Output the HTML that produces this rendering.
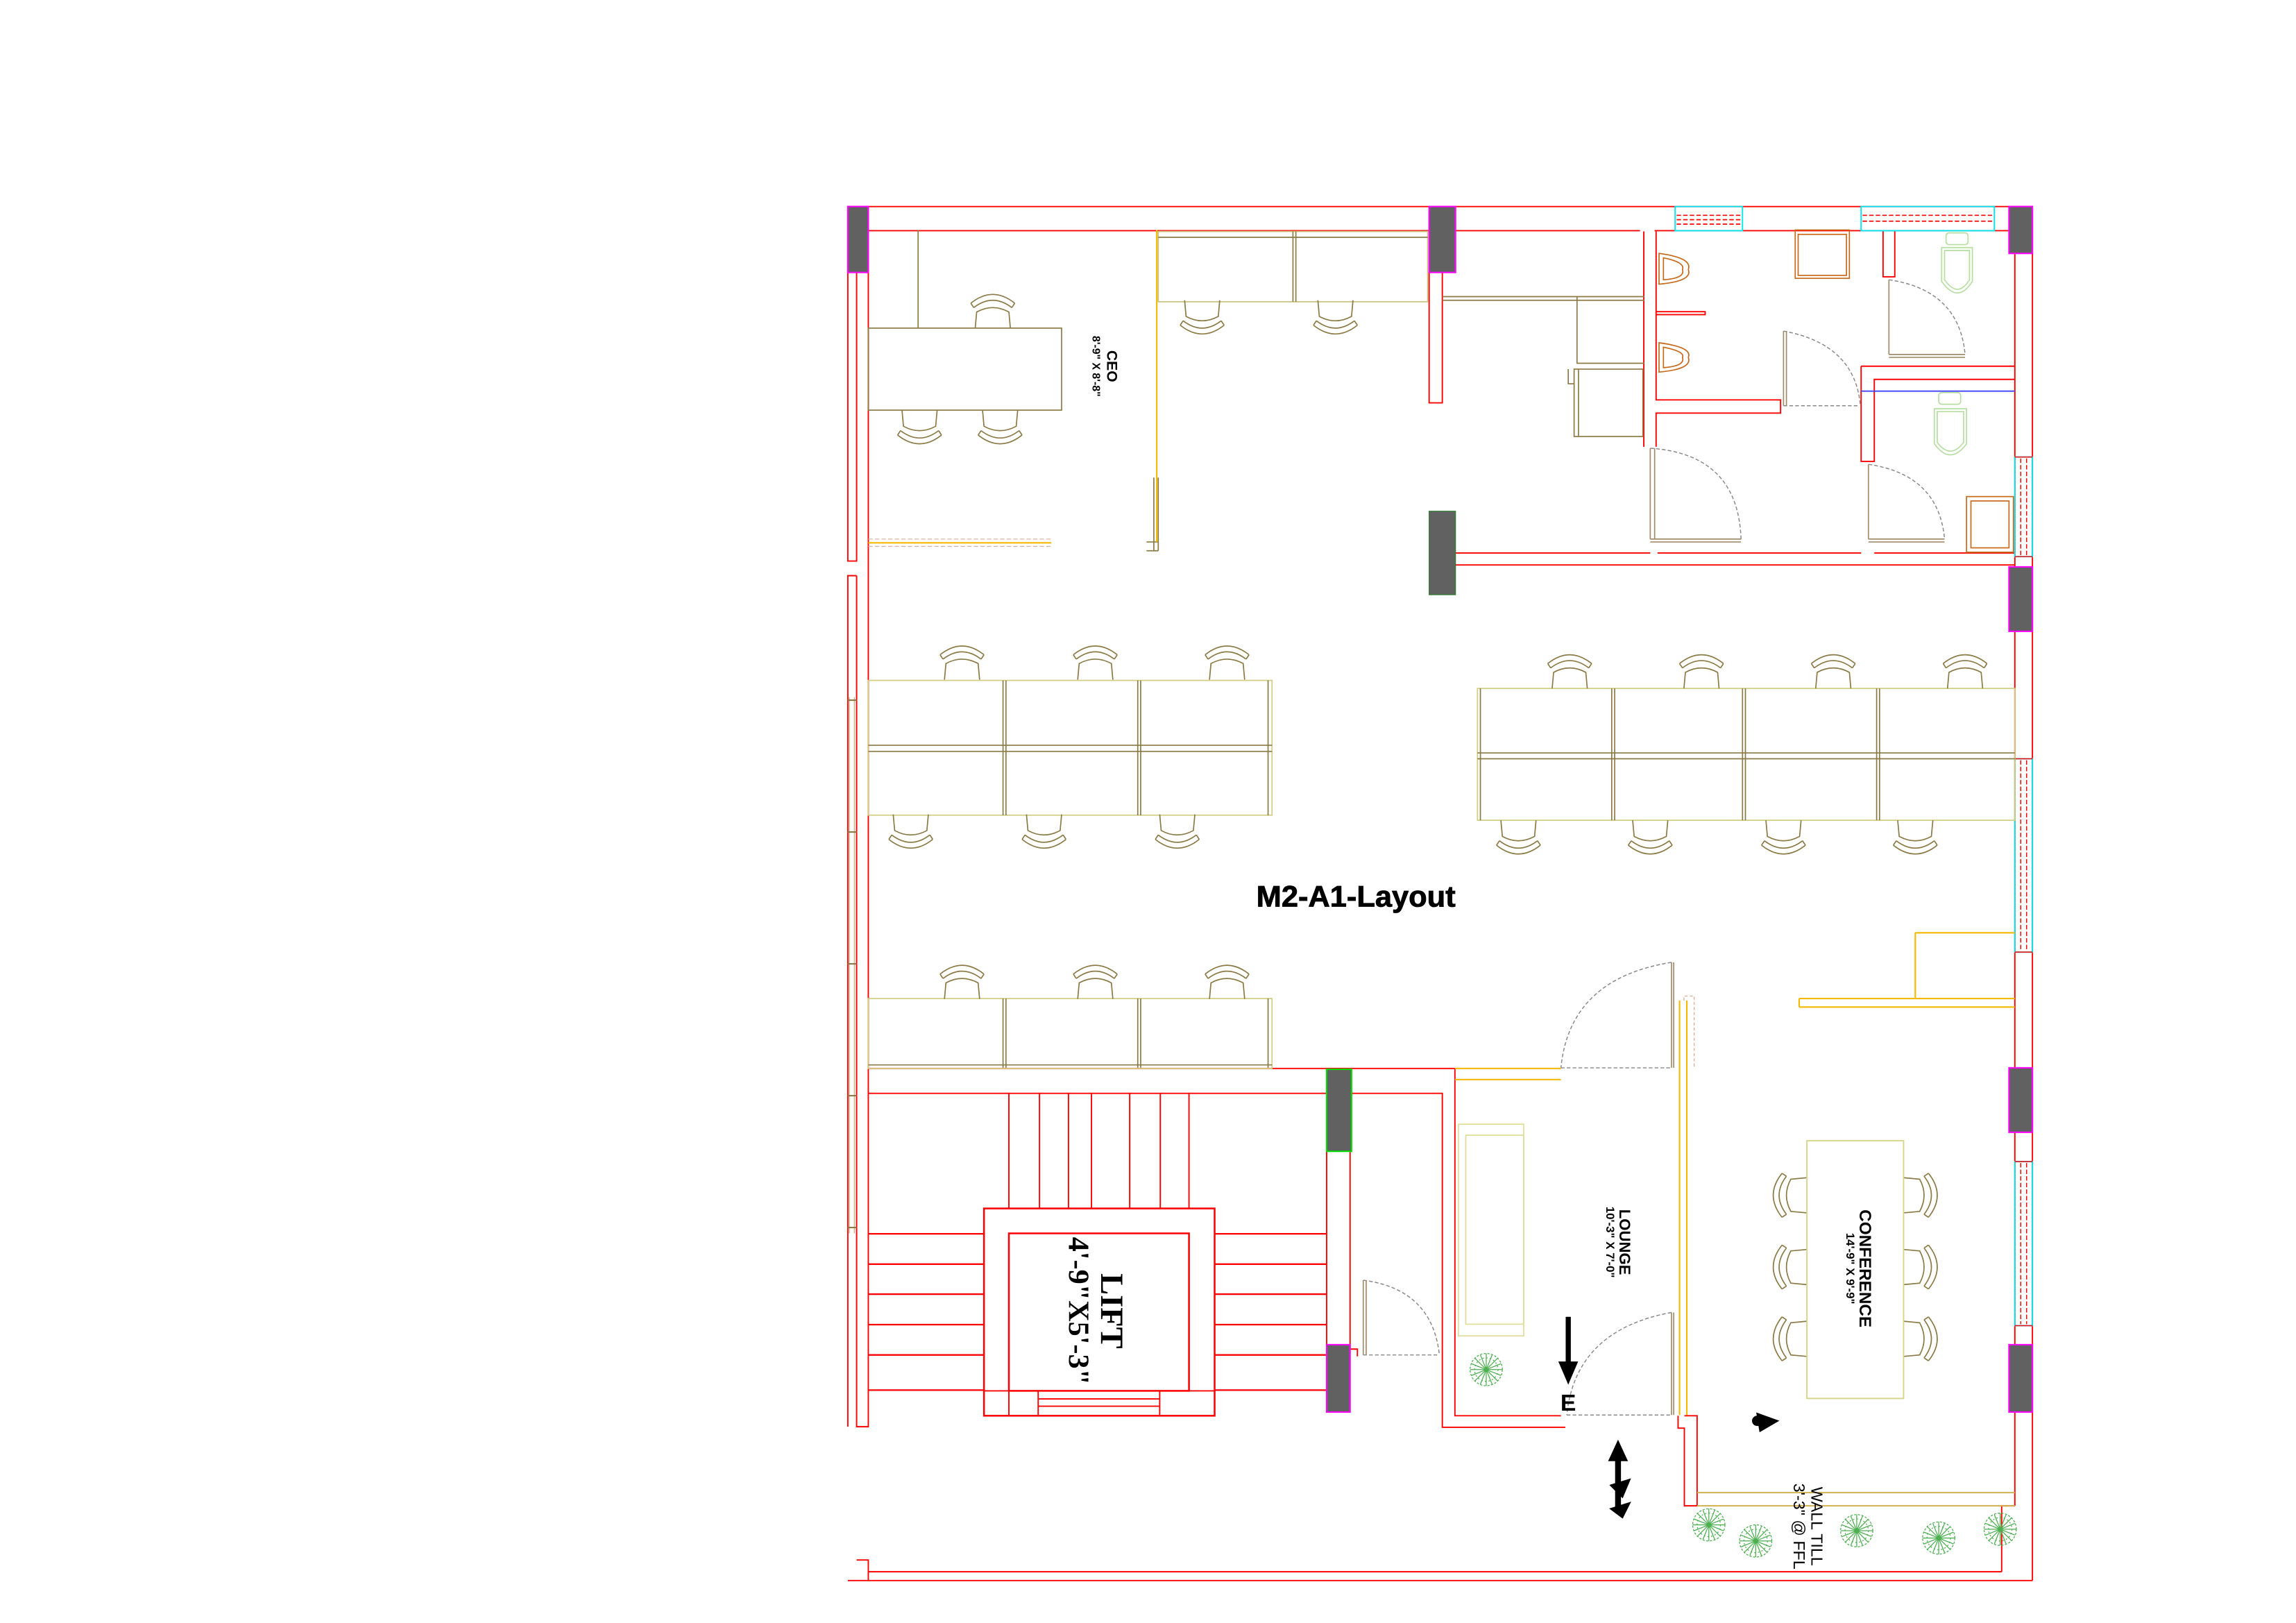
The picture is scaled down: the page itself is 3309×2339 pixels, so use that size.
<!DOCTYPE html>
<html><head><meta charset="utf-8"><style>
html,body{margin:0;padding:0;background:#fff;}
svg{display:block;}
</style></head><body>
<svg width="3309" height="2339" viewBox="0 0 1568 1108" preserveAspectRatio="none" xmlns="http://www.w3.org/2000/svg">
<defs>
<g id="ch" fill="none" stroke="#8b7a45" stroke-width="0.8">
<path d="M-15 7 Q0 -5 15 7 M-13 10 Q0 0 13 10 M-15 7 L-13 10 M15 7 L13 10"/>
<path d="M-12 24 L-11 13 Q0 7 11 13 L12 24"/>
</g>
<g id="tree" fill="none" stroke="#4caf50" stroke-width="0.6">
<circle r="11" stroke-dasharray="1.5 1"/>
<path d="M0 0 L0 -11 M0 0 L8 -8 M0 0 L11 0 M0 0 L8 8 M0 0 L0 11 M0 0 L-8 8 M0 0 L-11 0 M0 0 L-8 -8 M0 0 L4 -10 M0 0 L10 -4 M0 0 L10 4 M0 0 L4 10 M0 0 L-4 10 M0 0 L-10 4 M0 0 L-10 -4 M0 0 L-4 -10"/>
<circle r="8" stroke-dasharray="1 1.5"/>
</g>
</defs>
<g fill="none" stroke="#ff0000" stroke-width="0.9">
<path d="M579 141 H1388 M593 157.5 H1120 M1130 157.5 H1376"/>
<path d="M579 141 V383 H585 V186 M585 393 H579 V974 M593 157 V974 H585 V393"/>
<path d="M1376 157 V1028 M1388 141 V1079 M1376 1028 H1367 V1073"/>
<path d="M593 1073 H1367 M579 1079 H1388 M585 1065 H593 V1079"/>
<path d="M976 186 V275 H985 V186"/>
<path d="M1122.6 158 V305 M1131 158 V273 H1216 V282 H1131 V305"/>
<path d="M1131 212.8 H1164.5 V214.8 H1131"/>
<path d="M1271 250 V315 H1280 V259 H1376 M1271 250 H1376 M1286 158 V189 H1294 V158"/>
<path d="M994 377.5 H1127 M1132 377.5 H1271 M1280 377.5 H1376 M994 385.7 H1376"/>
<path d="M593 729.4 H993.6 M593 746.4 H906 M922 746.4 H985 V974.4 H1069 M993.6 729.4 V966.5 H1066"/>
<path d="M689 746 V825 M709.9 746 V825 M729.7 746 V825 M745.4 746 V825 M771.5 746 V825 M792.4 746 V825 M812 746 V825"/>
<rect x="672" y="825" width="157.5" height="141.5" stroke-width="1.2"/>
<rect x="689" y="842" width="123" height="107.5" stroke-width="1.2"/>
<path d="M672 949.5 H689 V966.5 M812 949.5 H829.5 M709 949.5 V966.5 M792 949.5 V966.5 M709 955 H792 M709 960 H792"/>
<path d="M593 842.3 H672 M593 863 H672 M593 883.5 H672 M593 904.3 H672 M593 925 H672 M593 949 H672" stroke-width="1.1"/>
<path d="M829.5 842.3 H906 M829.5 863 H906 M829.5 883.5 H906 M829.5 904.3 H906 M829.5 925 H906 M829.5 949 H906" stroke-width="1.1"/>
<path d="M906 786 V921 M922 786 V921 M922 921 H927 V926"/>
<path d="M1150.3 966.5 H1159 V1028 H1150.3 V975 H1146 V966.5"/>
</g>
<g fill="none">
<rect x="1144" y="141" width="46" height="16.5" stroke="#00e5ee" stroke-width="0.9"/>
<path d="M1145 147 H1189 M1145 150 H1189 M1145 153 H1189" stroke="#ff0000" stroke-width="0.8" stroke-dasharray="3 1.5"/>
<rect x="1271" y="141" width="91" height="16.5" stroke="#00e5ee" stroke-width="0.9"/>
<path d="M1272 147 H1361 M1272 151 H1361" stroke="#ff0000" stroke-width="0.8" stroke-dasharray="3 1.5"/>
<rect x="1376" y="312" width="12" height="68" stroke="#00e5ee" stroke-width="0.9"/>
<rect x="1376" y="518" width="12" height="132" stroke="#00e5ee" stroke-width="0.9"/>
<rect x="1376" y="793" width="12" height="112" stroke="#00e5ee" stroke-width="0.9"/>
<path d="M1380 313 V379 M1384 313 V379 M1380 519 V649 M1384 519 V649 M1380 794 V904 M1384 794 V904" stroke="#ff0000" stroke-width="0.7" stroke-dasharray="3 1.5"/>
<path d="M1376 312 H1388 M1376 380 H1388 M1376 518 H1388 M1376 650 H1388 M1376 793 H1388 M1376 905 H1388" stroke="#ff0000" stroke-width="0.7"/>
</g>
<g fill="#616161" stroke="#ff00ff" stroke-width="1">
<rect x="579" y="141" width="14" height="45"/>
<rect x="976" y="141" width="18" height="45"/>
<rect x="1372" y="141" width="16" height="32"/>
<rect x="1372" y="387" width="16" height="44"/>
<rect x="1372" y="729" width="16" height="44"/>
<rect x="906" y="918" width="16" height="46"/>
<rect x="1372" y="918" width="16" height="46"/>
</g>
<rect x="976" y="349" width="18" height="57" fill="#616161" stroke="#2e7d32" stroke-width="0.6"/>
<rect x="906" y="730" width="17" height="56" fill="#616161" stroke="#00dd00" stroke-width="1"/>
<g fill="none" stroke="#8b7a45" stroke-width="0.8">
<path d="M627 157 V224"/>
<rect x="593" y="224" width="132" height="56"/>
<rect x="791" y="158" width="184" height="48" stroke="#c8c27a"/>
<path d="M791 162 H975 M883 158 V206 M885 158 V206"/>
<path d="M985 202.5 H1123 M985 205 H1123 M1077 202.5 V248 H1123"/>
<rect x="1075" y="252" width="47" height="46"/>
<path d="M1078 252 V298 M1071 252 V262 H1075"/>
<path d="M788 326 V376 M791 326 V376 M783 370 H791 M783 376 H791"/>
</g>
<path d="M790 157 V370 M593 370.6 H718" stroke="#f5b800" stroke-width="1"/>
<path d="M593 368 H718 M593 373 H718" stroke="#d9b3a0" stroke-width="0.6" stroke-dasharray="3 1.5"/>
<g fill="none" stroke="#c8691a" stroke-width="0.8">
<path d="M1133 173 Q1156 176 1153 184 Q1156 192 1133 194 Z M1136 176 Q1151 179 1149 184 Q1151 190 1136 191 Z"/>
<path d="M1133 234 Q1156 237 1153 244 Q1156 252 1133 254 Z M1136 237 Q1151 240 1149 244 Q1151 250 1136 251 Z"/>
<rect x="1226" y="157" width="37" height="33"/><rect x="1228" y="160" width="33" height="28"/>
<rect x="1343" y="339" width="32" height="38"/><rect x="1346" y="342" width="26" height="32"/>
</g>
<g fill="none" stroke="#b5dea0" stroke-width="0.8">
<rect x="1329" y="159" width="15" height="8" rx="2"/>
<path d="M1326 169 H1347 V192 Q1337 208 1326 192 Z M1328 171 H1345 V191 Q1337 204 1328 191 Z"/>
<rect x="1324" y="268" width="15" height="8" rx="2"/>
<path d="M1321 279 H1343 V303 Q1332 318 1321 303 Z M1323 281 H1341 V302 Q1332 314 1323 302 Z"/>
</g>
<path d="M1271 267 H1376" stroke="#4040ff" stroke-width="0.9"/>
<g fill="none" stroke="#888" stroke-width="0.7" stroke-dasharray="2.5 1.5">
<path d="M1127 306 Q1187 310 1189 368"/>
<path d="M1218 226 Q1267 235 1270.5 277 M1218 277 H1270"/>
<path d="M1290 191 Q1338 198 1342 242"/>
<path d="M1276 317 Q1324 324 1328 368"/>
<path d="M931 874 Q978 880 983 925 M931 925 H983"/>
<path d="M1141.5 657 Q1072 668 1066 729 M1066 729 H1141"/>
<path d="M1141.5 896 Q1076 908 1070 966 M1070 966 H1141"/>
</g>
<g fill="none" stroke="#a08c6a" stroke-width="0.8">
<path d="M1127 306 V368 M1130 306 V368 M1127 368 H1189 M1127 370 H1189"/>
<path d="M1218 226 V277 M1220 226 V277"/>
<path d="M1290 191 V242 M1290 242 H1342 M1290 244 H1342"/>
<path d="M1276 317 V368 M1276 368 H1328 M1276 370 H1328"/>
<path d="M931 874 V925 M933 874 V925"/>
<path d="M1141.5 657 V729 M1143 657 V729 M1141.5 896 V966 M1143 896 V966"/>
</g>
<g fill="none" stroke="#d0cc80" stroke-width="0.8">
<rect x="593" y="464.5" width="275.7" height="92"/>
<rect x="1009" y="470" width="367" height="90"/>
<rect x="593" y="681.7" width="275.7" height="47.7"/>
</g>
<g fill="none" stroke="#8b7a45" stroke-width="0.8">
<path d="M593 508.8 H868.7 M593 513 H868.7 M685 464.5 V556.6 M687 464.5 V556.6 M777 464.5 V556.6 M779 464.5 V556.6 M866 464.5 V556.6"/>
<path d="M1009 514 H1376 M1009 518 H1376 M1011 470 V560 M1100.7 470 V560 M1102.7 470 V560 M1190 470 V560 M1192 470 V560 M1281.6 470 V560 M1283.6 470 V560"/>
<path d="M593 727 H868.7 M685 681.7 V729 M687 681.7 V729 M777 681.7 V729 M779 681.7 V729 M866 681.7 V729"/>
</g>
<use href="#ch" x="678" y="200"/>
<use href="#ch" transform="translate(628 304) scale(1 -1)"/>
<use href="#ch" transform="translate(683 304) scale(1 -1)"/>
<use href="#ch" transform="translate(821 229) scale(1 -1)"/>
<use href="#ch" transform="translate(912 229) scale(1 -1)"/>
<use href="#ch" x="657" y="440"/><use href="#ch" x="748" y="440"/><use href="#ch" x="838" y="440"/>
<use href="#ch" transform="translate(622 580) scale(1 -1)"/>
<use href="#ch" transform="translate(713 580) scale(1 -1)"/>
<use href="#ch" transform="translate(804 580) scale(1 -1)"/>
<use href="#ch" x="1072" y="446"/><use href="#ch" x="1162" y="446"/><use href="#ch" x="1252" y="446"/><use href="#ch" x="1342" y="446"/>
<use href="#ch" transform="translate(1037 584) scale(1 -1)"/>
<use href="#ch" transform="translate(1127 584) scale(1 -1)"/>
<use href="#ch" transform="translate(1218 584) scale(1 -1)"/>
<use href="#ch" transform="translate(1308 584) scale(1 -1)"/>
<use href="#ch" x="657" y="658"/><use href="#ch" x="748" y="658"/><use href="#ch" x="838" y="658"/>
<use href="#ch" transform="translate(1210 816) rotate(-90)"/>
<use href="#ch" transform="translate(1210 865) rotate(-90)"/>
<use href="#ch" transform="translate(1210 914) rotate(-90)"/>
<use href="#ch" transform="translate(1324 816) rotate(90)"/>
<use href="#ch" transform="translate(1324 865) rotate(90)"/>
<use href="#ch" transform="translate(1324 914) rotate(90)"/>
<rect x="1234" y="778.7" width="66" height="176" fill="none" stroke="#d6d488" stroke-width="0.9"/>
<g fill="none" stroke="#f5b800" stroke-width="1">
<path d="M993.6 729.4 H1066 M993.6 737 H1066"/>
<path d="M1147 683 V966 M1152 683 V966"/>
<path d="M1228.7 681.7 H1376 M1228.7 687.5 H1376 M1228.7 681.7 V687.5 M1308 636.8 V681.7 M1308 636.8 H1376"/>
<path d="M1159 1019 H1376 M1159 1028 H1376" stroke="#d0b050"/>
</g>
<path d="M1150 683 V680 H1157 V729" fill="none" stroke="#e0a890" stroke-width="0.6" stroke-dasharray="2 1.5"/>
<rect x="996" y="767.5" width="44.6" height="144.5" fill="none" stroke="#e0dc98" stroke-width="0.8"/>
<rect x="1001" y="775" width="39.6" height="129" fill="none" stroke="#e0dc98" stroke-width="0.8"/>
<path d="M580 476 V842 M583.5 476 V842" fill="none" stroke="#c8b88a" stroke-width="0.7"/>
<path d="M579 478 H585 M579 568 H585 M579 658 H585 M579 748 H585 M579 838 H585" stroke="#8b7a45" stroke-width="1"/>
<use href="#tree" x="1015" y="935"/>
<use href="#tree" x="1167" y="1041"/>
<use href="#tree" x="1199" y="1052"/>
<use href="#tree" x="1268" y="1045"/>
<use href="#tree" x="1324" y="1050"/>
<use href="#tree" x="1366" y="1044"/>
<g fill="#000" stroke="#000">
<path d="M1071 899 V934" stroke-width="3.5"/>
<path d="M1065 930 H1077 L1071 944 Z"/>
<path d="M1105 993 V1032" stroke-width="4"/>
<path d="M1099 997 L1105 984 L1111 997 Z"/>
<path d="M1100 1014 L1113 1010 L1108 1022 Z M1100 1030 L1113 1026 L1108 1036 Z"/>
<path d="M1200 965 L1214 970 L1202 977 Z"/>
<circle cx="1200" cy="970" r="3"/>
</g>
<g font-family="Liberation Sans, sans-serif" fill="#000" font-weight="bold">
<text x="926" y="619" font-size="20" text-anchor="middle" textLength="136" lengthAdjust="spacingAndGlyphs" stroke="#000" stroke-width="0.4">M2-A1-Layout</text>
<text x="1071" y="963" font-size="16" text-anchor="middle">E</text>
<g transform="translate(756 250) rotate(90)"><text x="0" y="0" font-size="10" text-anchor="middle">CEO</text><text x="0" y="10" font-size="7.5" text-anchor="middle">8'-9" X 8'-8"</text></g>
<g transform="translate(1106 848) rotate(90)"><text x="0" y="0" font-size="10.5" text-anchor="middle">LOUNGE</text><text x="0" y="9" font-size="8" text-anchor="middle">10'-3" X 7'-0"</text></g>
<g transform="translate(1270 866) rotate(90)"><text x="0" y="0" font-size="11.5" text-anchor="middle">CONFERENCE</text><text x="0" y="9" font-size="8" text-anchor="middle">14'-9" X 9'-9"</text></g>
<g transform="translate(1237 1042) rotate(90)"><text x="0" y="0" font-size="11" text-anchor="middle" font-weight="normal">WALL TILL</text><text x="0" y="12" font-size="11" text-anchor="middle" font-weight="normal">3'-3" @ FFL</text></g>
</g>
<g font-family="Liberation Serif, serif" font-weight="bold" fill="#000">
<g transform="translate(752 895) rotate(90)"><text x="0" y="0" font-size="22" text-anchor="middle">LIFT</text><text x="0" y="22" font-size="20" text-anchor="middle">4'-9"X5'-3"</text></g>
</g>
</svg>
</body></html>
